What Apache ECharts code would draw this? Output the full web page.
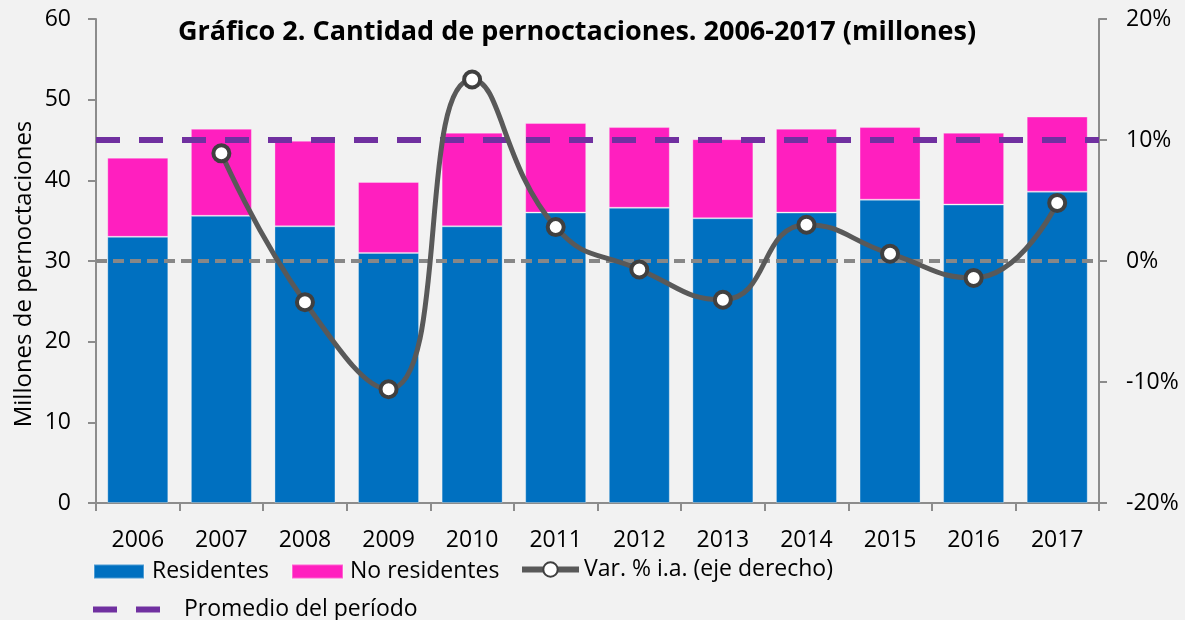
<!DOCTYPE html>
<html>
<head>
<meta charset="utf-8">
<script src="https://cdn.jsdelivr.net/npm/echarts@6/dist/echarts.min.js"></script>
<style>
  html, body { margin: 0; padding: 0; background: #f2f2f2; }
  #chart { width: 1185px; height: 620px; }
</style>
</head>
<body>
<div id="chart"></div>
<script>
const years = ['2006', '2007', '2008', '2009', '2010', '2011', '2012', '2013', '2014', '2015', '2016', '2017']
const residentes = [33.0, 35.6, 34.3, 31.0, 34.3, 36.0, 36.6, 35.3, 36.0, 37.6, 37.0, 38.6]
const noResidentes = [9.8, 10.8, 10.6, 8.8, 11.6, 11.1, 10.0, 9.8, 10.4, 9.0, 8.9, 9.3]
const variacion = [null, 8.9, -3.4, -10.6, 15.0, 2.8, -0.7, -3.2, 3.0, 0.6, -1.4, 4.8]
const promedio = 45.0
const cero = 0

const font = "'Open Sans', 'Liberation Sans', sans-serif"
const axisGray = '#8c8c8c'

const chart = echarts.init(document.getElementById('chart'))

function legendItem(name, left, top, width, height, gap, extra) {
  return Object.assign({
    data: [name],
    left: left,
    top: top,
    padding: 0,
    itemWidth: width,
    itemHeight: height,
    selectedMode: false,
    textStyle: { fontFamily: font, fontSize: 23, color: '#000', padding: [0, 0, 0, gap] }
  }, extra || {})
}

chart.setOption({
  backgroundColor: '#f2f2f2',
  animation: false,
  title: {
    text: 'Gráfico 2. Cantidad de pernoctaciones. 2006-2017 (millones)',
    left: 572,
    top: 14,
    textAlign: 'center',
    textStyle: { fontFamily: font, fontSize: 27, fontWeight: 'bold', color: '#000' }
  },
  // nombre del eje izquierdo
  graphic: [{
    type: 'text',
    x: 24,
    y: 274,
    rotation: Math.PI / 2,
    style: {
      text: 'Millones de pernoctaciones',
      fill: '#000',
      font: "24px 'Open Sans', 'Liberation Sans', sans-serif",
      align: 'center',
      verticalAlign: 'middle'
    }
  }],
  legend: [
    legendItem('Residentes', 93, 560, 50, 14, 3, { icon: 'rect' }),
    legendItem('No residentes', 291, 560, 51, 14, 2, { icon: 'rect' }),
    legendItem('Var. % i.a. (eje derecho)', 519, 558, 57, 18, 0, {
      lineStyle: { width: 6, color: '#595959' },
      itemStyle: { color: '#ffffff', borderColor: '#404040', borderWidth: 2 }
    }),
    legendItem('Promedio del período', 93, 598, 67, 6, 19, {
      icon: 'path://M0,0H24V6H0Z M43,0H67V6H43Z',
      itemStyle: { color: '#7030a0' }
    })
  ],
  grid: { left: 96, right: 86, top: 19, bottom: 117 },
  xAxis: [
    {
      type: 'category',
      data: years,
      axisLine: { lineStyle: { color: axisGray, width: 2 } },
      axisTick: { show: true, length: 8, lineStyle: { color: axisGray, width: 2 } },
      axisLabel: { color: '#000', fontFamily: font, fontSize: 23, margin: 26 }
    },
    { type: 'value', min: 0, max: 1, show: false }
  ],
  yAxis: [
    {
      type: 'value',
      min: 0,
      max: 60,
      interval: 10,
      axisLine: { show: true, lineStyle: { color: axisGray, width: 2 } },
      axisTick: { show: true, length: 8, lineStyle: { color: axisGray, width: 2 } },
      axisLabel: { color: '#000', fontFamily: font, fontSize: 23, margin: 25 },
      splitLine: { show: false }
    },
    {
      type: 'value',
      min: -20,
      max: 20,
      interval: 10,
      position: 'right',
      axisLine: { show: true, lineStyle: { color: axisGray, width: 2 } },
      axisTick: { show: true, length: 8, lineStyle: { color: axisGray, width: 2 } },
      axisLabel: { color: '#000', fontFamily: font, fontSize: 23, margin: 27, formatter: '{value}%' },
      splitLine: { show: false }
    }
  ],
  series: [
    {
      name: 'Residentes',
      type: 'bar',
      stack: 'total',
      barWidth: 61,
      z: 2,
      itemStyle: { color: '#0070c0', borderColor: 'rgba(255,255,255,0.3)', borderWidth: 1 },
      data: residentes
    },
    {
      name: 'No residentes',
      type: 'bar',
      stack: 'total',
      barWidth: 61,
      z: 2,
      itemStyle: { color: '#ff1fbf', borderColor: 'rgba(255,255,255,0.3)', borderWidth: 1 },
      data: noResidentes
    },
    {
      name: 'Promedio del período',
      type: 'line',
      xAxisIndex: 1,
      yAxisIndex: 0,
      symbol: 'none',
      z: 3,
      lineStyle: { color: '#7030a0', width: 6, type: [24, 19] },
      itemStyle: { color: '#7030a0' },
      data: [[0, promedio], [1, promedio]]
    },
    {
      name: 'cero',
      type: 'line',
      xAxisIndex: 1,
      yAxisIndex: 1,
      symbol: 'none',
      z: 3,
      lineStyle: { color: '#878787', width: 4, type: [11, 6] },
      data: [[0, cero], [1, cero]]
    },
    {
      name: 'Var. % i.a. (eje derecho)',
      type: 'line',
      yAxisIndex: 1,
      smooth: 0.5,
      symbol: 'circle',
      symbolSize: 16,
      z: 5,
      lineStyle: { color: '#595959', width: 5 },
      itemStyle: { color: '#ffffff', borderColor: '#404040', borderWidth: 4 },
      data: variacion
    }
  ]
})
</script>
</body>
</html>
